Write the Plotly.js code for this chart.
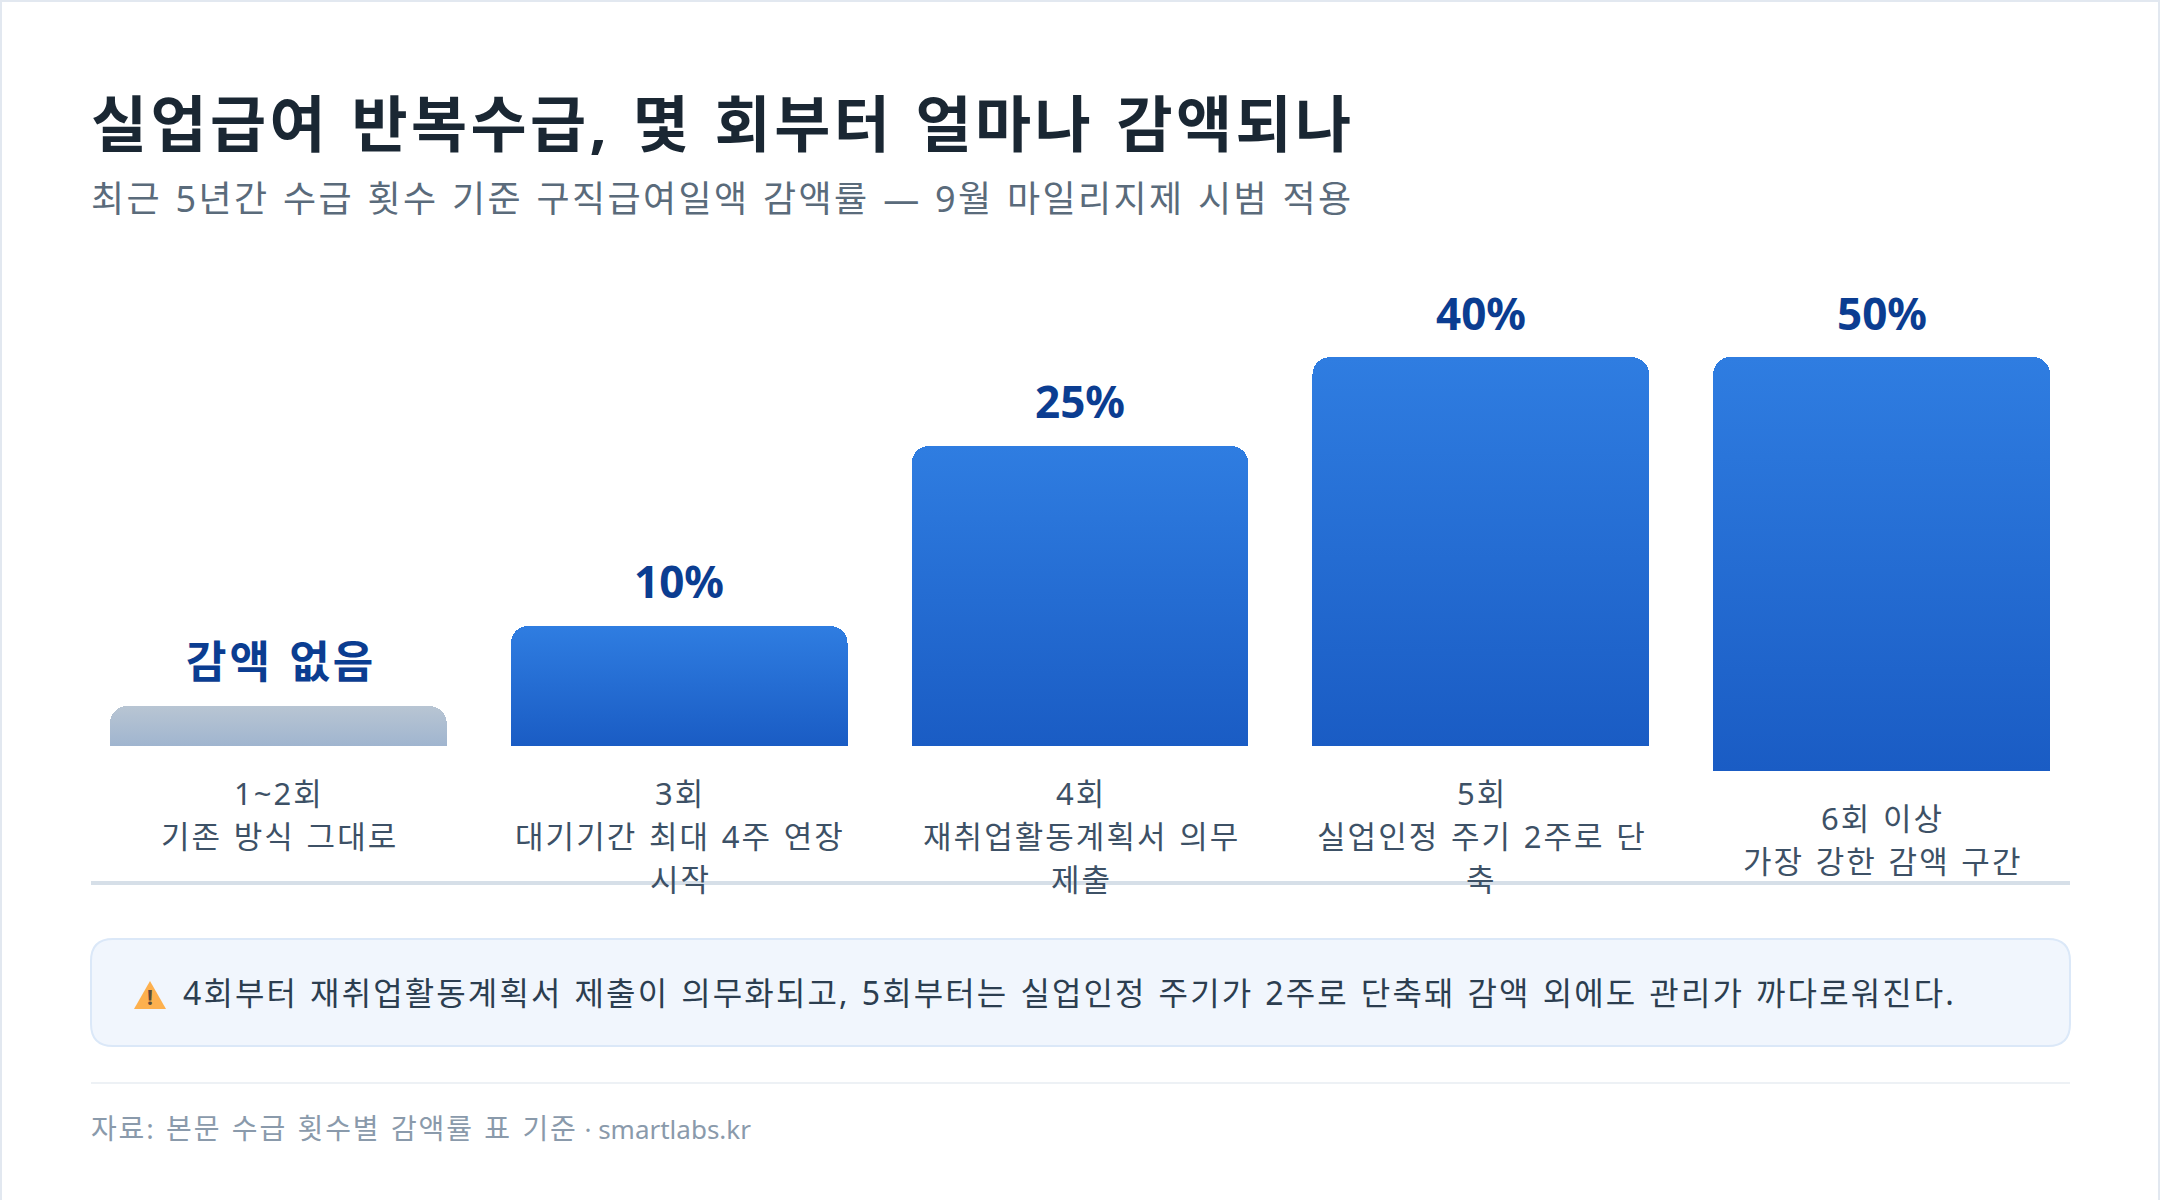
<!DOCTYPE html>
<html><head><meta charset="utf-8">
<script src="https://cdn.plot.ly/plotly-3.0.1.min.js"></script>
<style>html,body{margin:0;padding:0;background:#fff}#chart{width:2160px;height:1200px}
.annotation-text{letter-spacing:.066em;word-spacing:.05em}</style>
</head><body><div id="chart"></div>
<script>
const tiers = ['1~2회','3회','4회','5회','6회 이상'];
const rateLabels = ['감액 없음','10%','25%','40%','50%'];
// Bar lengths as drawn in the reference, in units where the 10% bar reads 10
const drawnLength = [3.33,10,25,32.4,34.5];
// Offset under each bar: the last bar starts lower than the other four
const drawnOffset = [2.08,2.08,2.08,2.08,0];
const noteLines = [['기존 방식 그대로'],['대기기간 최대 4주 연장','시작'],['재취업활동계획서 의무','제출'],['실업인정 주기 2주로 단','축'],['가장 강한 감액 구간']];
const titleText = '실업급여 반복수급, 몇 회부터 얼마나 감액되나';
const subtitleText = '최근 5년간 수급 횟수 기준 구직급여일액 감액률 — 9월 마일리지제 시범 적용';
const calloutText = '4회부터 재취업활동계획서 제출이 의무화되고, 5회부터는 실업인정 주기가 2주로 단축돼 감액 외에도 관리가 까다로워진다.';
const sourceText = '자료: 본문 수급 횟수별 감액률 표 기준';
const sourceSite = ' · smartlabs.kr';

const W=2160,H=1200;
const px=x=>x/W, py=y=>1-y/H;
const FONT='"Noto Sans","Noto Sans CJK KR",sans-serif';
const xs=tiers.map((_,i)=>i);
const NOSP='letter-spacing:0;word-spacing:0';

function txt(text,x,y,size,color,o={}){
  return Object.assign({text,x:px(x),y:py(y),xref:'paper',yref:'paper',showarrow:false,xanchor:'left',yanchor:'middle',
    font:{family:FONT,size,color},borderpad:0,bgcolor:'rgba(0,0,0,0)'},o);
}
function rr(x0,y0,x1,y1,r){
  const rx=r/W, ry=r/H, a=px(x0),b=px(x1),t=py(y0),u=py(y1);
  return `M${a+rx},${t} L${b-rx},${t} Q${b},${t} ${b},${t-ry} L${b},${u+ry} Q${b},${u} ${b-rx},${u} L${a+rx},${u} Q${a},${u} ${a},${u+ry} L${a},${t-ry} Q${a},${t} ${a+rx},${t} Z`;
}
const annotations=[
  txt(`<b><span style="letter-spacing:.056em">${titleText}</span></b>`,90,123,61,'#1a2733'),
  txt(subtitleText,90,198,36,'#5a6b7b'),
  txt(calloutText,182,992,32,'#2c3e50'),
  txt(sourceText+`<span style="${NOSP};font-size:26px">${sourceSite}</span>`,90,1128,28,'#8a9aab'),
];
const lineY=[793,836,879];
tiers.forEach((t,i)=>{
  const off=i===4?25:0;
  const label=i===0?rateLabels[i]:`<span style="${NOSP}">${rateLabels[i]}</span>`;
  annotations.push({text:'<b>'+label+'</b>',x:i,y:drawnOffset[i]+drawnLength[i],xref:'x',yref:'y',showarrow:false,xanchor:'center',yanchor:'middle',yshift:i===3||i===4?44:45,xshift:i===0?2.5:0,
    font:{family:FONT,size:44,color:'#0b3d91'}});
  annotations.push(Object.assign(txt(t,0,lineY[0]+off,31,'#3d5166',{xanchor:'center',xshift:1}),{x:i,xref:'x'}));
  noteLines[i].forEach((l,j)=>annotations.push(Object.assign(txt(l,0,lineY[j+1]+off,31,'#3d5166',{xanchor:'center',xshift:1}),{x:i,xref:'x'})));
});
const shapes=[
  {type:'rect',xref:'paper',yref:'paper',x0:0,x1:1,y0:py(2),y1:1,fillcolor:'#e2e8f0',line:{width:0}},
  {type:'rect',xref:'paper',yref:'paper',x0:0,x1:px(2),y0:0,y1:1,fillcolor:'#e2e8f0',line:{width:0}},
  {type:'rect',xref:'paper',yref:'paper',x0:px(2158),x1:1,y0:0,y1:1,fillcolor:'#e2e8f0',line:{width:0}},
  {type:'line',xref:'paper',yref:'paper',x0:px(91),x1:px(2070),y0:py(883),y1:py(883),line:{color:'#d6dfe8',width:4}},
  {type:'path',xref:'paper',yref:'paper',path:rr(91,939,2070,1046,22),fillcolor:'#f1f6fd',line:{color:'#dbe8f8',width:2}},
  {type:'line',xref:'paper',yref:'paper',x0:px(91),x1:px(2070),y0:py(1083),y1:py(1083),line:{color:'#edf1f5',width:2}},
  {type:'path',xref:'paper',yref:'paper',path:`M${px(134)},${py(1009)} L${px(166)},${py(1009)} L${px(150)},${py(981)} Z`,fillcolor:'#fdb04e',line:{width:0}},
];
annotations.push(txt('<b>!</b>',150,997,21,'#5a4a3a',{xanchor:'center'}));

const spacer={type:'bar',x:xs,y:drawnOffset,width:0.84,hoverinfo:'skip',marker:{color:'rgba(0,0,0,0)',line:{width:0}}};
const trace={type:'bar',x:xs,y:drawnLength,width:0.84,hoverinfo:'skip',marker:{color:'#2566d0',cornerradius:17,line:{width:0}}};
const layout={width:W,height:H,margin:{l:0,r:0,t:0,b:0},paper_bgcolor:'#fff',plot_bgcolor:'rgba(0,0,0,0)',showlegend:false,barmode:'stack',
  xaxis:{domain:[px(78),px(2082)],range:[-0.5,4.5],visible:false,fixedrange:true},
  yaxis:{domain:[py(771),py(262)],range:[0,42.42],visible:false,fixedrange:true},
  font:{family:FONT},annotations,shapes};
function grads(gd){
  const svg=gd.querySelector('svg.main-svg');
  const NS='http://www.w3.org/2000/svg';
  const defs=svg.querySelector('defs')||svg.appendChild(document.createElementNS(NS,'defs'));
  function mk(id,a,b){
    const g=document.createElementNS(NS,'linearGradient');g.id=id;
    [['x1',0],['y1',0],['x2',0],['y2',1]].forEach(p=>g.setAttribute(p[0],p[1]));
    [[0,a],[1,b]].forEach(s=>{const e=document.createElementNS(NS,'stop');e.setAttribute('offset',s[0]);e.setAttribute('stop-color',s[1]);g.appendChild(e);});
    defs.appendChild(g);
  }
  mk('gBlue','#2f7de1','#1a5cc4');mk('gGrey','#b8c5d3','#a0b5cf');
  const layers=gd.querySelectorAll('.barlayer .trace');
  layers[layers.length-1].querySelectorAll('.point path').forEach((p,i)=>{p.style.fill=i===0?'url(#gGrey)':'url(#gBlue)';p.style.fillOpacity=1;});
}
Plotly.newPlot('chart',[spacer,trace],layout,{displayModeBar:false,staticPlot:true}).then(grads);
</script></body></html>
